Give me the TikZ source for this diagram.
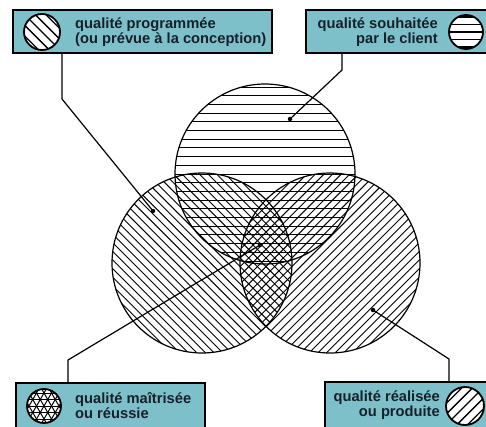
\documentclass[tikz,border=0pt]{standalone}
\usepackage{fontspec}
\newfontfamily\cond[Scale=1.47]{Liberation Sans}
\usetikzlibrary{calc}
\definecolor{boxcyan}{RGB}{126,192,202}
\definecolor{txt}{RGB}{22,32,42}
\tikzset{
  legbox/.style={draw=black, line width=1.3pt, fill=boxcyan, rectangle, inner sep=0pt},
  lbl/.style={inner sep=0pt, text=txt, font=\cond\bfseries},
  outline/.style={draw=black, line width=1.2pt},
  hatch/.style={line width=0.9pt},
  leader/.style={line width=1.2pt},
  dotn/.style={circle, fill=black, inner sep=0pt, minimum size=4.5pt},
  icon/.style={draw=black, line width=1.8pt, fill=white},
  ihatch/.style={line width=1.3pt}
}
\begin{document}
\begin{tikzpicture}[x=1pt,y=-1pt]
\clip (0,0) rectangle (486,426);
\fill[white] (0,0) rectangle (486,426);
% ---- hatching of circles ----
\begin{scope}
  \clip (265,174) circle[radius=90];
  \foreach \k in {-11,...,11} \draw[hatch] (170,174+\k*8.7) -- (360,174+\k*8.7);
\end{scope}
\begin{scope}
  \clip (202,263) circle[radius=90];
  \begin{scope}[shift={(202,263)}, rotate=-45]
    \foreach \k in {-16,...,16} \draw[hatch] (-100,\k*6.1) -- (100,\k*6.1);
  \end{scope}
\end{scope}
\begin{scope}
  \clip (330,263) circle[radius=90];
  \begin{scope}[shift={(330,263)}, rotate=45]
    \foreach \k in {-16,...,16} \draw[hatch] (-100,\k*6.1) -- (100,\k*6.1);
  \end{scope}
\end{scope}
\node[outline, circle, minimum size=180pt, inner sep=0pt] (top) at (265,174) {};
\node[outline, circle, minimum size=180pt, inner sep=0pt] (left) at (202,263) {};
\node[outline, circle, minimum size=180pt, inner sep=0pt] (right) at (330,263) {};
% ---- boxes ----
\node[legbox, minimum width=259pt, minimum height=43pt] (b1) at (142.5,31.5) {};
\node[legbox, minimum width=186pt, minimum height=43pt] (b2) at (399,31.5) {};
\node[legbox, minimum width=189pt, minimum height=48pt] (b3) at (110.5,407) {};
\node[legbox, minimum width=167pt, minimum height=48pt] (b4) at (408.5,406) {};
% ---- icons ----
\begin{scope}
  \clip (42,32) circle[radius=18];
  \fill[white] (42,32) circle[radius=18];
  \begin{scope}[shift={(42,32)}, rotate=-45]
    \foreach \k in {-2,...,2} \draw[ihatch] (-20,\k*7.5) -- (20,\k*7.5);
  \end{scope}
\end{scope}
\node[icon, fill=none, circle, minimum size=36pt, inner sep=0pt] (i1) at (42,32) {};
\begin{scope}
  \clip (466,32) circle[radius=17];
  \fill[white] (466,32) circle[radius=17];
  \foreach \k in {-2,...,2} \draw[ihatch] (446,32+\k*7.5) -- (486,32+\k*7.5);
\end{scope}
\node[icon, fill=none, circle, minimum size=34pt, inner sep=0pt] (i2) at (466,32) {};
\begin{scope}
  \clip (44,406) circle[radius=17];
  \fill[white] (44,406) circle[radius=17];
  \foreach \a in {0,60,120}{
    \begin{scope}[shift={(44,406)}, rotate=\a]
      \foreach \k in {-3,...,3} \draw[line width=1pt] (-20,\k*6.5) -- (20,\k*6.5);
    \end{scope}}
\end{scope}
\node[icon, fill=none, circle, minimum size=34pt, inner sep=0pt] (i3) at (44,406) {};
\begin{scope}
  \clip (465,406) circle[radius=19];
  \fill[white] (465,406) circle[radius=19];
  \begin{scope}[shift={(465,406)}, rotate=45]
    \foreach \k in {-2,...,2} \draw[ihatch] (-22,\k*7.5) -- (22,\k*7.5);
  \end{scope}
\end{scope}
\node[icon, fill=none, circle, minimum size=38pt, inner sep=0pt] (i4) at (465,406) {};
% ---- texts ----
\node[lbl, anchor=base west] (t1a) at (75,28.5) {qualité programmée};
\node[lbl, anchor=base west] (t1b) at (75,43.5) {(ou prévue à la conception)};
\node[lbl, anchor=base east] (t2a) at (438,28.5) {qualité souhaitée};
\node[lbl, anchor=base east] (t2b) at (438,43.5) {par le client};
\node[lbl, anchor=base west] (t3a) at (75,403) {qualité maîtrisée};
\node[lbl, anchor=base west] (t3b) at (75,418.5) {ou réussie};
\node[lbl, anchor=base east] (t4a) at (440,401) {qualité réalisée};
\node[lbl, anchor=base east] (t4b) at (440,416.5) {ou produite};
% ---- dots and leaders ----
\node[dotn] (d1) at (153,211) {};
\node[dotn] (d2) at (290,119) {};
\node[dotn] (d3) at (260,245) {};
\node[dotn] (d4) at (373,310) {};
\coordinate (k1) at (62,99);
\coordinate (k2) at (342,70);
\coordinate (k3) at (68,360);
\coordinate (k4) at (449,359);
\draw[leader] (b1.south -| k1) -- (k1) -- (d1.center);
\draw[leader] (b2.south -| k2) -- (k2) -- (d2.center);
\draw[leader] (b3.north -| k3) -- (k3) -- (d3.center);
\draw[leader] (b4.north -| k4) -- (k4) -- (d4.center);
\end{tikzpicture}
\end{document}
